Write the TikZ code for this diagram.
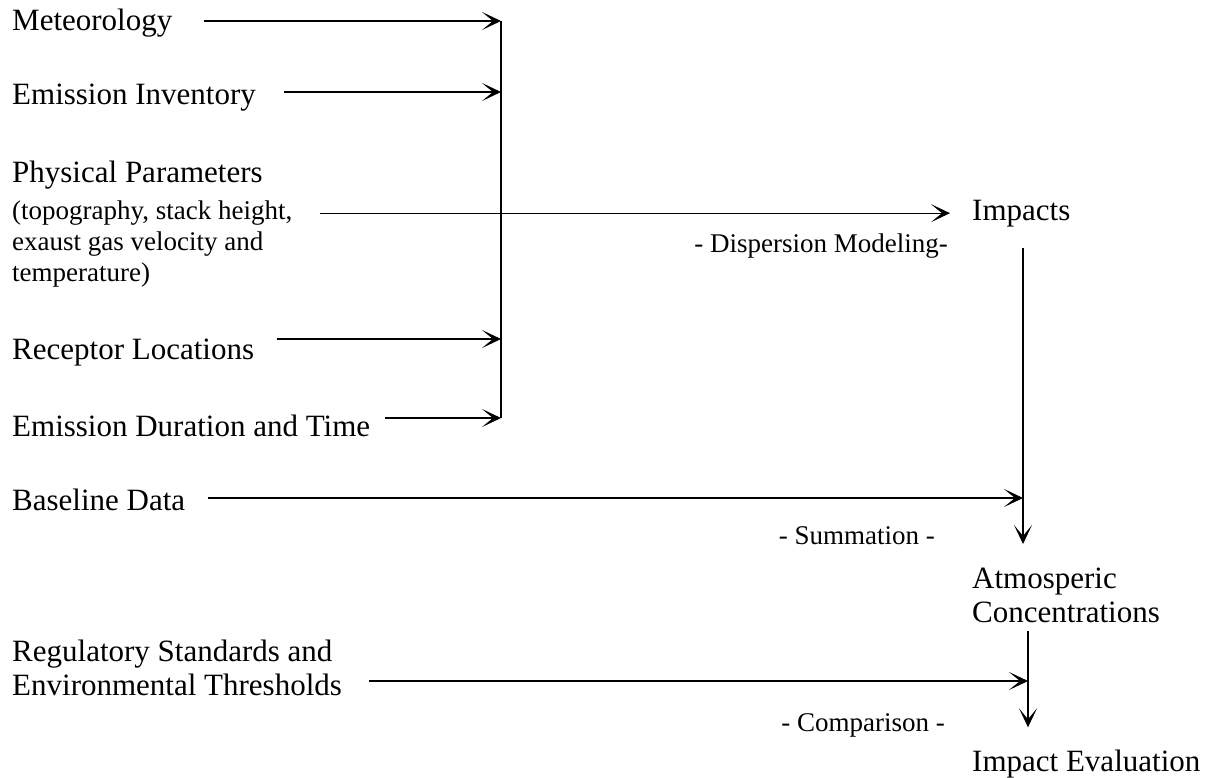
\documentclass[tikz,border=0pt]{standalone}
\usepackage{fontspec}
\setmainfont{Liberation Serif}
\usetikzlibrary{arrows.meta,positioning,calc}
\newcommand{\bigtxt}{\fontsize{31}{34}\selectfont}
\newcommand{\smalltxt}{\fontsize{27}{31}\selectfont}
\tikzset{item/.style={inner sep=0pt,anchor=base west,font=\bigtxt},
  itemlines/.style={inner sep=0pt,anchor=north west,align=left,font=\bigtxt},
  note/.style={inner sep=0pt,anchor=base east,font=\smalltxt},
  flow/.style={-{Stealth[length=19pt,width=18pt,inset=11pt,line width=0.9pt]},line width=1.2pt,draw=black}}
\begin{document}
\begin{tikzpicture}[x=1pt,y=-1pt]
\useasboundingbox (0,0) rectangle (1212,777);
% inputs on the left
\node[item] (met) at (12,30) {Meteorology};
\node[item] (emi) at (12,104) {Emission Inventory};
\node[item] (phys) at (12,182) {Physical Parameters};
\node[itemlines,font=\smalltxt] (physnote) at (12,201) {(topography, stack height,\\exaust gas velocity and\\temperature)};
\node[item] (rec) at (12,359) {Receptor Locations};
\node[item] (dur) at (12,436) {Emission Duration and Time};
\node[item] (base) at (12,510) {Baseline Data};
\node[itemlines] (reg) at (12,640) {Regulatory Standards and\\Environmental Thresholds};
% results on the right
\node[item] (imp) at (972,220) {Impacts};
\node[itemlines] (atm) at (972,568) {Atmosperic\\Concentrations};
\node[item] (eval) at (972,771) {Impact Evaluation};
% step labels
\node[note] (disp) at (948,252) {- Dispersion Modeling-};
\node[note] (summ) at (935,544) {- Summation -};
\node[note] (comp) at (945,731) {- Comparison -};
% collecting bus
\coordinate (b1) at (501,21);
\coordinate (b2) at (501,92);
\coordinate (b3) at (501,339);
\coordinate (b4) at (501,418);
\coordinate (j1) at (1023,498);
\coordinate (j2) at (1028,681);
\draw[line width=1.2pt] (b1) -- (b4);
\draw[flow] ($(met.east|-b1)+(31,0)$) -- (b1);
\draw[flow] ($(emi.east|-b2)+(28,0)$) -- (b2);
\draw[flow] ($(rec.east|-b3)+(23,0)$) -- (b3);
\draw[flow] ($(dur.east|-b4)+(15,0)$) -- (b4);
\draw[flow,shorten >=22pt] ($(physnote.north east|-imp.west)+(27,0)$) -- (imp.west);
% chain on the right
\draw[flow] (j1|-imp.south) ++(0,21) -- ($(j1|-atm.north)+(0,-24)$);
\draw[flow] ($(base.east|-j1)+(23,0)$) -- (j1);
\draw[flow] (j2|-atm.south) ++(0,8) -- ($(j2|-eval.north)+(0,-22)$);
\draw[flow] ($(reg.east|-j2)+(27,0)$) -- (j2);
\end{tikzpicture}
\end{document}
